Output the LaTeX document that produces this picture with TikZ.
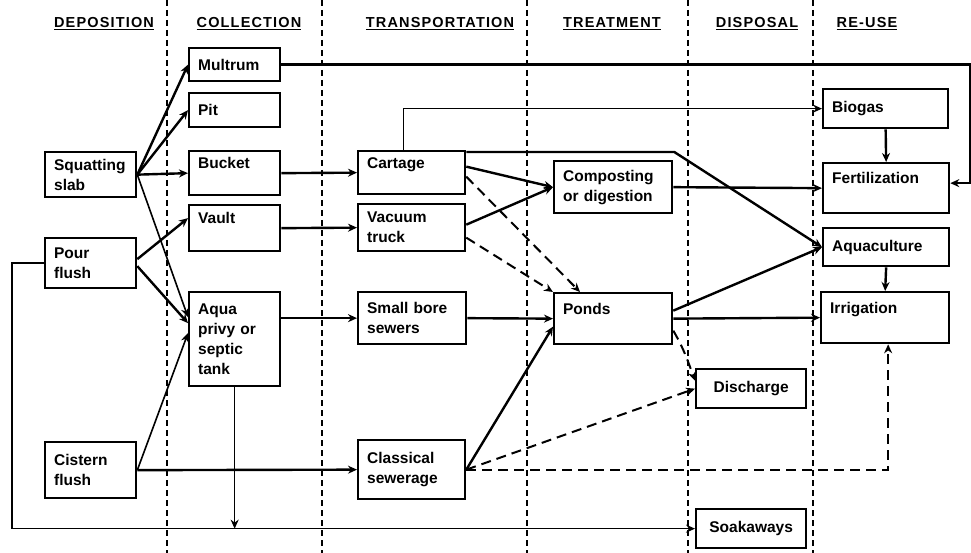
\documentclass[tikz,border=0pt]{standalone}
\usepackage{fontspec}
\setmainfont{Liberation Sans}
\newfontfamily\headfont[LetterSpace=8]{Liberation Sans}
\usetikzlibrary{arrows.meta}

\tikzset{
    box/.style={draw, line width=2.3pt, anchor=north west, align=left,
        inner xsep=9pt, inner ysep=2pt, font=\bfseries\fontsize{15.5}{20}\selectfont},
    head/.style={anchor=base, font=\headfont\bfseries\fontsize{14.5}{16}\selectfont},
    flow/.style={->, line width=2.4pt},
    thinflow/.style={->, line width=1.6pt},
    dflow/.style={->, line width=2pt, dash pattern=on 10pt off 6pt},
    divider/.style={line width=1.5pt, dash pattern=on 6pt off 4pt},
    >={Stealth[length=9pt,width=8pt]}
}

\begin{document}
\begin{tikzpicture}[x=1pt, y=-1pt]
                \useasboundingbox (0,0) rectangle (971,553);
                % Column dividers
                \foreach \x in {167,322,527,688,813}
                    \draw[divider] (\x,0) -- (\x,553);
                % Headings
                \node[head] (hdep) at (104,28) {\underline{DEPOSITION}};
                \node[head] (hcol) at (249,28) {\underline{COLLECTION}};
                \node[head] (htra) at (440,28) {\underline{TRANSPORTATION}};
                \node[head] (htre) at (612,28) {\underline{TREATMENT}};
                \node[head] (hdis) at (757,28) {\underline{DISPOSAL}};
                \node[head] (hreu) at (867,28) {\underline{RE-USE}};
                % Deposition
                \node[box, text width=73pt, minimum height=45pt] (slab) at (44,151) {Squatting\\slab};
                \node[box, text width=73pt, minimum height=50pt] (pour) at (44,237) {Pour\\flush};
                \node[box, text width=73pt, minimum height=56pt] (cistern) at (44,441) {Cistern\\flush};
                % Collection
                \node[box, text width=73pt, minimum height=33pt] (multrum) at (188,47) {Multrum};
                \node[box, text width=73pt, minimum height=34pt] (pit) at (188,92) {Pit};
                \node[box, text width=73pt, minimum height=44pt] (bucket) at (188,150) {Bucket\\~};
                \node[box, text width=73pt, minimum height=46pt] (vault) at (188,204) {Vault\\~};
                \node[box, text width=73pt, minimum height=94pt] (aqua) at (188,291) {Aqua\\privy or\\septic\\tank};
                % Transportation
                \node[box, text width=89pt, minimum height=43pt] (cartage) at (357,150) {Cartage\\~};
                \node[box, text width=89pt, minimum height=47pt] (vacuum) at (357,203) {Vacuum\\truck};
                \node[box, text width=90pt, minimum height=52pt] (smallbore) at (357,291) {Small bore\\sewers};
                \node[box, text width=89pt, minimum height=59pt] (classical) at (357,439) {Classical\\sewerage};
                % Treatment
                \node[box, text width=100pt, minimum height=52pt] (compost) at (553,160) {Composting\\or digestion};
                \node[box, text width=100pt, minimum height=51pt] (ponds) at (553,292) {Ponds\\~};
                % Disposal
                \node[box, align=center, text width=92pt, minimum height=39pt] (discharge) at (695,368) {Discharge};
                \node[box, align=center, text width=92pt, minimum height=39pt] (soak) at (695,508) {Soakaways};
                % Re-use
                \node[box, text width=107pt, minimum height=39pt] (biogas) at (822,88) {Biogas};
                \node[box, text width=108pt, minimum height=50pt] (fert) at (822,162) {Fertilization\\~};
                \node[box, text width=108pt, minimum height=38pt] (aquac) at (822,227) {Aquaculture};
                \node[box, text width=110pt, minimum height=51pt] (irrig) at (820,291) {Irrigation\\~};
                % Deposition -> collection
                \draw[flow] (slab.east) -- (multrum.west);
                \draw[flow] (slab.east) -- (pit.west);
                \draw[flow] (slab.east) -- (bucket.west);
                \draw[thinflow] (slab.east) -- ([yshift=22pt]aqua.west);
                \draw[flow] ([yshift=4pt]pour.east) -- ([yshift=10pt]vault.west);
                \draw[flow] ([yshift=-3pt]pour.east) -- ([yshift=16pt]aqua.west);
                \draw[thinflow] (cistern.east) -- ([yshift=6pt]aqua.west);
                \draw[thinflow] (pour.west) -- ++(-32,0) |- (soak.west);
                \draw[thinflow] (aqua.south) -- (aqua.south |- soak.west);
                % Collection -> transportation
                \draw[flow] (bucket.east) -- (cartage.west);
                \draw[flow] (vault.east) -- (vacuum.west);
                \draw[flow] (aqua.east |- smallbore.west) -- (smallbore.west);
                \draw[flow] (cistern.east) -- (classical.west);
                \draw[flow] (multrum.east) -| ([xshift=20pt,yshift=5pt]fert.east) -- ([yshift=5pt]fert.east);
                % Transportation -> treatment
                \draw[thinflow] ([xshift=-8pt]cartage.north) |- (biogas.west);
                \draw[flow] ([yshift=-2pt]cartage.north east) -- ++(208,0) -- (aquac.west);
                \draw[flow] ([yshift=6pt]cartage.east) -- (compost.west);
                \draw[flow] ([yshift=3pt]vacuum.east) -- (compost.west);
                \draw[dflow] ([yshift=-4pt]cartage.east) -- ([xshift=27pt]ponds.north west);
                \draw[dflow] ([yshift=-10pt]vacuum.east) -- (ponds.north west);
                \draw[flow] (smallbore.east) -- (ponds.west);
                \draw[flow] (classical.east) -- ([yshift=-8pt]ponds.west);
                \draw[dflow] (classical.east) -- (discharge.west);
                \draw[dflow] (classical.east) -| ([xshift=3pt]irrig.south);
                % Treatment -> re-use
                \draw[flow] (compost.east) -- (fert.west);
                \draw[flow] ([yshift=8pt]ponds.east) -- (aquac.west);
                \draw[flow] (ponds.east) -- (irrig.west);
                \draw[dflow] ([yshift=-12pt]ponds.east) to[out=-60,in=110] ([yshift=8pt]discharge.west);
                \draw[flow] (biogas.south) -- (fert.north);
                \draw[flow] (aquac.south) -- (irrig.north);
\end{tikzpicture}
\end{document}
